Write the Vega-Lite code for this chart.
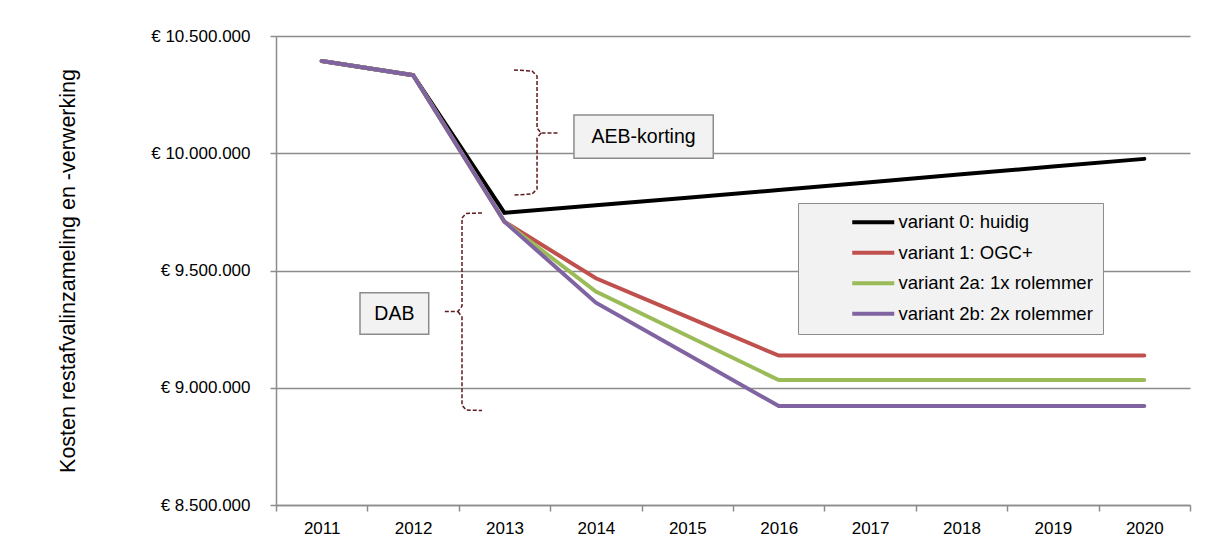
{
  "$schema": "https://vega.github.io/schema/vega-lite/v6.json",
  "width": 914,
  "height": 469,
  "autosize": {"type": "none"},
  "padding": {"left": 276, "top": 36, "right": 16, "bottom": 54},
  "background": "white",
  "config": {
    "font": "Liberation Sans",
    "view": {"stroke": null},
    "locale": {
      "number": {"decimal": ",", "thousands": ".", "grouping": [3], "currency": ["€ ", ""]}
    }
  },
  "datasets": {
    "kosten": [
      {"jaar": 2011, "variant": "variant 0: huidig", "kosten": 10393000},
      {"jaar": 2012, "variant": "variant 0: huidig", "kosten": 10333000},
      {"jaar": 2013, "variant": "variant 0: huidig", "kosten": 9746000},
      {"jaar": 2014, "variant": "variant 0: huidig", "kosten": 9778000},
      {"jaar": 2015, "variant": "variant 0: huidig", "kosten": 9810000},
      {"jaar": 2016, "variant": "variant 0: huidig", "kosten": 9843000},
      {"jaar": 2017, "variant": "variant 0: huidig", "kosten": 9876000},
      {"jaar": 2018, "variant": "variant 0: huidig", "kosten": 9910000},
      {"jaar": 2019, "variant": "variant 0: huidig", "kosten": 9943000},
      {"jaar": 2020, "variant": "variant 0: huidig", "kosten": 9976000},
      {"jaar": 2011, "variant": "variant 1: OGC+", "kosten": 10393000},
      {"jaar": 2012, "variant": "variant 1: OGC+", "kosten": 10333000},
      {"jaar": 2013, "variant": "variant 1: OGC+", "kosten": 9708000},
      {"jaar": 2014, "variant": "variant 1: OGC+", "kosten": 9467000},
      {"jaar": 2015, "variant": "variant 1: OGC+", "kosten": 9302000},
      {"jaar": 2016, "variant": "variant 1: OGC+", "kosten": 9137000},
      {"jaar": 2017, "variant": "variant 1: OGC+", "kosten": 9137000},
      {"jaar": 2018, "variant": "variant 1: OGC+", "kosten": 9137000},
      {"jaar": 2019, "variant": "variant 1: OGC+", "kosten": 9137000},
      {"jaar": 2020, "variant": "variant 1: OGC+", "kosten": 9137000},
      {"jaar": 2011, "variant": "variant 2a: 1x rolemmer", "kosten": 10393000},
      {"jaar": 2012, "variant": "variant 2a: 1x rolemmer", "kosten": 10333000},
      {"jaar": 2013, "variant": "variant 2a: 1x rolemmer", "kosten": 9708000},
      {"jaar": 2014, "variant": "variant 2a: 1x rolemmer", "kosten": 9410000},
      {"jaar": 2015, "variant": "variant 2a: 1x rolemmer", "kosten": 9222000},
      {"jaar": 2016, "variant": "variant 2a: 1x rolemmer", "kosten": 9033000},
      {"jaar": 2017, "variant": "variant 2a: 1x rolemmer", "kosten": 9033000},
      {"jaar": 2018, "variant": "variant 2a: 1x rolemmer", "kosten": 9033000},
      {"jaar": 2019, "variant": "variant 2a: 1x rolemmer", "kosten": 9033000},
      {"jaar": 2020, "variant": "variant 2a: 1x rolemmer", "kosten": 9033000},
      {"jaar": 2011, "variant": "variant 2b: 2x rolemmer", "kosten": 10393000},
      {"jaar": 2012, "variant": "variant 2b: 2x rolemmer", "kosten": 10333000},
      {"jaar": 2013, "variant": "variant 2b: 2x rolemmer", "kosten": 9708000},
      {"jaar": 2014, "variant": "variant 2b: 2x rolemmer", "kosten": 9363000},
      {"jaar": 2015, "variant": "variant 2b: 2x rolemmer", "kosten": 9143000},
      {"jaar": 2016, "variant": "variant 2b: 2x rolemmer", "kosten": 8922000},
      {"jaar": 2017, "variant": "variant 2b: 2x rolemmer", "kosten": 8922000},
      {"jaar": 2018, "variant": "variant 2b: 2x rolemmer", "kosten": 8922000},
      {"jaar": 2019, "variant": "variant 2b: 2x rolemmer", "kosten": 8922000},
      {"jaar": 2020, "variant": "variant 2b: 2x rolemmer", "kosten": 8922000}
    ],
    "accolades": [
      {"deel": "AEB boven", "volg": 1, "jaar": 2013.104, "kosten": 10355000},
      {"deel": "AEB boven", "volg": 2, "jaar": 2013.301, "kosten": 10350700},
      {"deel": "AEB boven", "volg": 3, "jaar": 2013.356, "kosten": 10329400},
      {"deel": "AEB boven", "volg": 4, "jaar": 2013.356, "kosten": 10107700},
      {"deel": "AEB boven", "volg": 5, "jaar": 2013.399, "kosten": 10086400},
      {"deel": "AEB boven", "volg": 6, "jaar": 2013.585, "kosten": 10086400},
      {"deel": "AEB onder", "volg": 1, "jaar": 2013.399, "kosten": 10086400},
      {"deel": "AEB onder", "volg": 2, "jaar": 2013.356, "kosten": 10065000},
      {"deel": "AEB onder", "volg": 3, "jaar": 2013.356, "kosten": 9847500},
      {"deel": "AEB onder", "volg": 4, "jaar": 2013.301, "kosten": 9826200},
      {"deel": "AEB onder", "volg": 5, "jaar": 2013.104, "kosten": 9822000},
      {"deel": "DAB boven", "volg": 1, "jaar": 2012.754, "kosten": 9745200},
      {"deel": "DAB boven", "volg": 2, "jaar": 2012.579, "kosten": 9743100},
      {"deel": "DAB boven", "volg": 3, "jaar": 2012.535, "kosten": 9723900},
      {"deel": "DAB boven", "volg": 4, "jaar": 2012.535, "kosten": 9348600},
      {"deel": "DAB boven", "volg": 5, "jaar": 2012.491, "kosten": 9325200},
      {"deel": "DAB boven", "volg": 6, "jaar": 2012.327, "kosten": 9325200},
      {"deel": "DAB onder", "volg": 1, "jaar": 2012.491, "kosten": 9325200},
      {"deel": "DAB onder", "volg": 2, "jaar": 2012.535, "kosten": 9301700},
      {"deel": "DAB onder", "volg": 3, "jaar": 2012.535, "kosten": 8926400},
      {"deel": "DAB onder", "volg": 4, "jaar": 2012.579, "kosten": 8905100},
      {"deel": "DAB onder", "volg": 5, "jaar": 2012.754, "kosten": 8903000}
    ],
    "kaders": [
      {"tekst": "AEB-korting", "x1": 2013.76, "x2": 2015.284, "y1": 10163100, "y2": 9978500, "xm": 2014.522, "ym": 10070800},
      {"tekst": "DAB", "x1": 2011.419, "x2": 2012.171, "y1": 9405300, "y2": 9227900, "xm": 2011.795, "ym": 9316600}
    ]
  },
  "layer": [
    {
      "data": {"name": "kosten"},
      "mark": {"type": "line", "strokeWidth": 4, "strokeCap": "round"},
      "encoding": {
        "x": {
          "field": "jaar",
          "type": "quantitative",
          "scale": {"domain": [2010.5, 2020.5], "nice": false, "zero": false},
          "axis": {
            "title": null,
            "values": [2010.5, 2011.5, 2012.5, 2013.5, 2014.5, 2015.5, 2016.5, 2017.5, 2018.5, 2019.5, 2020.5],
            "labelExpr": "datum.value > 2020 ? '' : format(datum.value + 0.5, 'd')",
            "labelOffset": 45.7,
            "labelFlush": false,
            "labelOverlap": false,
            "labelFontSize": 17,
            "labelColor": "#000000",
            "labelPadding": 9,
            "tickSize": 6,
            "tickColor": "#8c8c8c",
            "tickWidth": 1.5,
            "domainColor": "#8c8c8c",
            "domainWidth": 1.5,
            "grid": false
          }
        },
        "y": {
          "field": "kosten",
          "type": "quantitative",
          "scale": {"domain": [8500000, 10500000], "nice": false, "zero": false},
          "axis": {
            "title": "Kosten restafvalinzameling en -verwerking",
            "titleFontSize": 21.5,
            "titleFontWeight": "normal",
            "titleColor": "#000000",
            "titlePadding": 71,
            "values": [8500000, 9000000, 9500000, 10000000, 10500000],
            "format": "$,.0f",
            "labelFontSize": 17,
            "labelColor": "#000000",
            "labelPadding": 20,
            "tickSize": 6,
            "tickColor": "#8c8c8c",
            "tickWidth": 1.5,
            "domainColor": "#8c8c8c",
            "domainWidth": 1.5,
            "grid": true,
            "gridColor": "#8c8c8c",
            "gridWidth": 1.5
          }
        },
        "color": {
          "field": "variant",
          "type": "nominal",
          "scale": {
            "domain": ["variant 0: huidig", "variant 1: OGC+", "variant 2a: 1x rolemmer", "variant 2b: 2x rolemmer"],
            "range": ["#000000", "#c0504d", "#9bbb59", "#8064a2"]
          },
          "legend": {
            "title": null,
            "orient": "none",
            "legendX": 522,
            "legendY": 167,
            "fillColor": "#f2f2f2",
            "strokeColor": "#8c8c8c",
            "padding": 10,
            "symbolType": "M-3,0H3",
            "symbolSize": 196,
            "symbolStrokeWidth": 4,
            "symbolOffset": 56,
            "labelOffset": 16,
            "rowPadding": 11.5,
            "labelFontSize": 18.5,
            "labelColor": "#000000",
            "labelLimit": 400
          }
        }
      }
    },
    {
      "data": {"name": "accolades"},
      "mark": {"type": "line", "color": "#5e1b1f", "strokeWidth": 1.5, "strokeDash": [4, 2]},
      "encoding": {
        "x": {"field": "jaar", "type": "quantitative"},
        "y": {"field": "kosten", "type": "quantitative"},
        "detail": {"field": "deel", "type": "nominal"},
        "order": {"field": "volg", "type": "quantitative"}
      }
    },
    {
      "data": {"name": "kaders"},
      "mark": {"type": "rect", "fill": "#f2f2f2", "stroke": "#8c8c8c", "strokeWidth": 1.5},
      "encoding": {
        "x": {"field": "x1", "type": "quantitative"},
        "x2": {"field": "x2"},
        "y": {"field": "y1", "type": "quantitative"},
        "y2": {"field": "y2"}
      }
    },
    {
      "data": {"name": "kaders"},
      "mark": {"type": "text", "fontSize": 19.5, "color": "#000000", "align": "center", "baseline": "middle"},
      "encoding": {
        "x": {"field": "xm", "type": "quantitative"},
        "y": {"field": "ym", "type": "quantitative"},
        "text": {"field": "tekst"}
      }
    }
  ]
}
